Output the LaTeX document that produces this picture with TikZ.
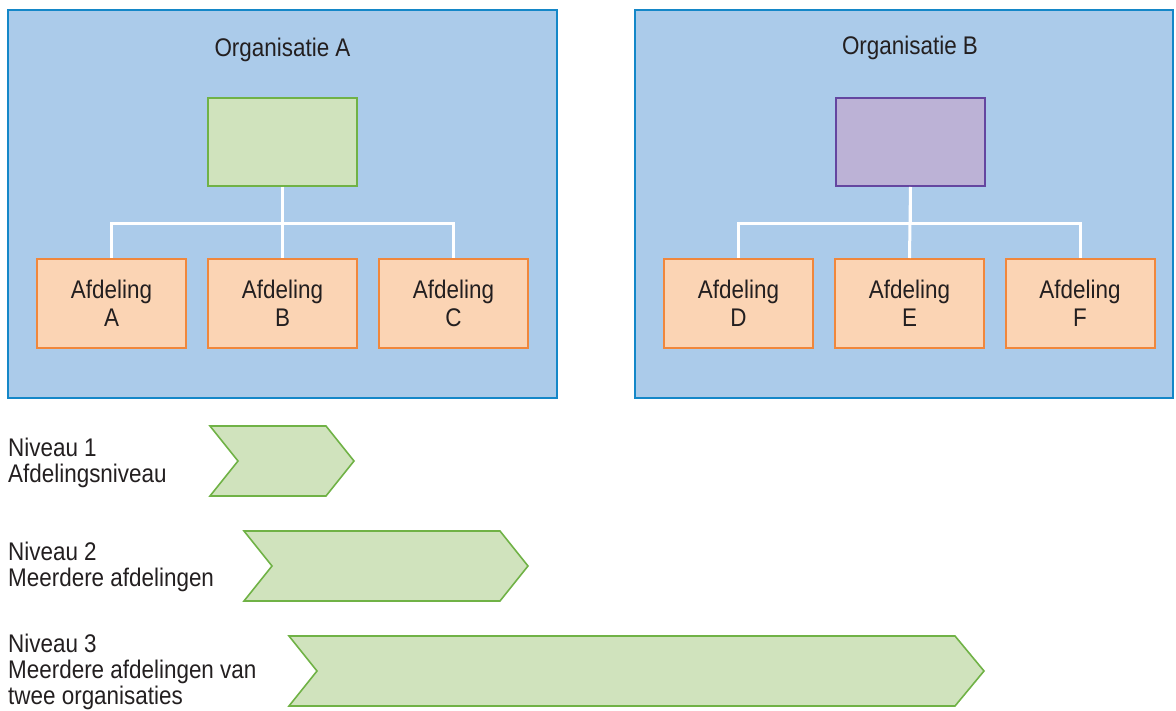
\documentclass[tikz,border=0pt]{standalone}
\usepackage{fontspec}
\setmainfont{Liberation Sans}[FakeStretch=0.88]
\definecolor{orgfill}{RGB}{171,203,234}
\definecolor{orgline}{RGB}{20,135,200}
\definecolor{grnfill}{RGB}{208,227,189}
\definecolor{grnline}{RGB}{112,178,70}
\definecolor{orafill}{RGB}{251,212,180}
\definecolor{oraline}{RGB}{240,135,60}
\definecolor{purfill}{RGB}{188,178,214}
\definecolor{purline}{RGB}{100,70,160}
\definecolor{ink}{RGB}{35,31,32}
\begin{document}
\begin{tikzpicture}[x=1pt,y=-1pt,
  every node/.style={text=ink, font=\fontsize{25.5}{27.5}\selectfont},
  orgbox/.style={draw=orgline, fill=orgfill, line width=2pt, inner sep=0pt},
  topbox/.style={line width=2pt, minimum width=149pt, minimum height=88pt, inner sep=0pt},
  deptbox/.style={draw=oraline, fill=orafill, line width=2pt, minimum width=149pt, minimum height=89pt, inner sep=0pt, align=center},
  conn/.style={draw=white, line width=3pt},
  chevron/.style={draw=grnline, fill=grnfill, line width=1.6pt, line join=miter},
  level/.style={anchor=north west, align=left, inner sep=0pt, font=\fontsize{25.5}{26}\selectfont}]
\useasboundingbox (0,0) rectangle (1176,711);

% organisation frames
\node[orgbox, minimum width=549pt, minimum height=388pt] (orgA) at (282.5,204) {};
\node[orgbox, minimum width=538pt, minimum height=388pt] (orgB) at (904,204) {};
\node (titleA) at (282.5,50) {Organisatie A};
\node (titleB) at (910,48) {Organisatie B};

% top of each hierarchy
\node[topbox, draw=grnline, fill=grnfill] (headA) at (282.5,142) {};
\node[topbox, draw=purline, fill=purfill] (headB) at (910.5,142) {};

% departments
\node[deptbox] (dA) at (111.5,303.5) {Afdeling\\A};
\node[deptbox] (dB) at (282.5,303.5) {Afdeling\\B};
\node[deptbox] (dC) at (453.5,303.5) {Afdeling\\C};
\node[deptbox] (dD) at (738.5,303.5) {Afdeling\\D};
\node[deptbox] (dE) at (909.5,303.5) {Afdeling\\E};
\node[deptbox] (dF) at (1080,303.5) {Afdeling\\F};

% reporting lines
\coordinate (busA) at (0,224);
\coordinate (busB) at (0,224);
\draw[conn] (headA.south) -- (headA.south |- busA) -| (dA.north);
\draw[conn] (headA.south) -- (headA.south |- busA) -| (dC.north);
\draw[conn] (headA.south) -- (dB.north);
\draw[conn] (headB.south) -- (headB.south |- busB) -| (dD.north);
\draw[conn] (headB.south) -- (headB.south |- busB) -| (dF.north);
\draw[conn] (headB.south) -- (dE.north);

% scope of each level
\draw[chevron] (210,426) -- (326,426) -- (354,461) -- (326,496) -- (210,496) -- (238,461) -- cycle;
\draw[chevron] (244,531) -- (500,531) -- (528,566) -- (500,601) -- (244,601) -- (272,566) -- cycle;
\draw[chevron] (289,636) -- (955,636) -- (984,671) -- (955,706) -- (289,706) -- (317,671) -- cycle;

\node[level] (lvl1) at (8,438) {Niveau 1\\Afdelingsniveau};
\node[level] (lvl2) at (8,542) {Niveau 2\\Meerdere afdelingen};
\node[level] (lvl3) at (8,634) {Niveau 3\\Meerdere afdelingen van\\twee organisaties};
\end{tikzpicture}
\end{document}
